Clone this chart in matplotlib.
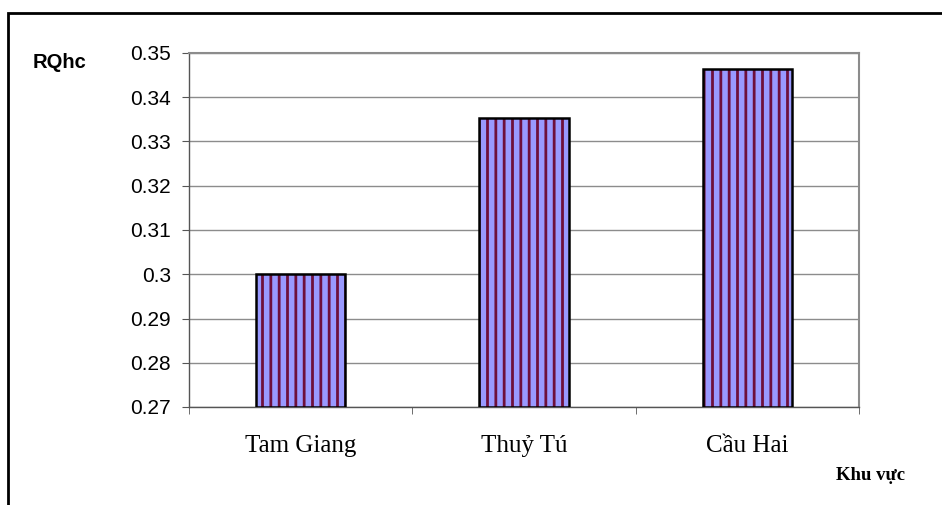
import matplotlib.pyplot as plt
from matplotlib.patches import Rectangle
from matplotlib.ticker import FixedLocator

# regions and RQhc values
regions = ['Tam Giang', 'Thuỷ Tú', 'Cầu Hai']
rqhc = [0.300, 0.3353, 0.3464]
yticks = [0.27, 0.28, 0.29, 0.30, 0.31, 0.32, 0.33, 0.34, 0.35]
ytick_labels = ['0.27', '0.28', '0.29', '0.3', '0.31', '0.32', '0.33', '0.34', '0.35']

plt.rcParams['hatch.linewidth'] = 2.0

fig = plt.figure(figsize=(9.42, 5.05), dpi=100)
ax = fig.add_axes([189 / 942, 1 - 407 / 505, 670 / 942, 354 / 505])

x = list(range(len(regions)))
# striped fill first, then a black outline on top
ax.bar(x, [v - 0.27 for v in rqhc], bottom=0.27, width=0.40, color='#9999ff',
       edgecolor='#6e0f3c', hatch='||', linewidth=0, zorder=3)
ax.bar(x, [v - 0.27 for v in rqhc], bottom=0.27, width=0.40, fill=False,
       edgecolor='black', linewidth=1.8, zorder=4)

ax.set_xlim(-0.5, 2.5)
ax.set_ylim(0.27, 0.35)
ax.set_yticks(yticks)
ax.set_yticklabels(ytick_labels, fontfamily='Liberation Sans', fontsize=15)
ax.yaxis.grid(True, color='#8c8c8c', linewidth=1.0, zorder=0)
ax.set_axisbelow(True)

ax.set_xticks(x)
ax.set_xticklabels(regions, fontfamily='Liberation Serif', fontsize=18)
ax.xaxis.set_minor_locator(FixedLocator([-0.5, 0.5, 1.5, 2.5]))
ax.tick_params(axis='x', which='major', length=0, pad=20)
ax.tick_params(axis='x', which='minor', length=5, color='#555555', direction='out')
ax.tick_params(axis='y', length=5, color='#555555', direction='out', pad=8)

for side in ['top', 'right']:
    ax.spines[side].set_color('#8c8c8c')
    ax.spines[side].set_linewidth(1.5)
for side in ['left', 'bottom']:
    ax.spines[side].set_color('#555555')
    ax.spines[side].set_linewidth(1.0)

fig.text(33 / 942, 1 - 62 / 505, 'RQhc', fontfamily='Liberation Sans',
         fontweight='bold', fontsize=14.5, va='center')
fig.text(836 / 942, 1 - 476 / 505, 'Khu vực', fontfamily='Liberation Serif',
         fontweight='bold', fontsize=13.5, va='center')

# outer frame
fig.patches.append(Rectangle((7.5 / 942, -0.1), 1.0, 1 - 13 / 505 + 0.1,
                             transform=fig.transFigure, fill=False,
                             edgecolor='black', linewidth=2))

fig.savefig('out.png', dpi=100)
